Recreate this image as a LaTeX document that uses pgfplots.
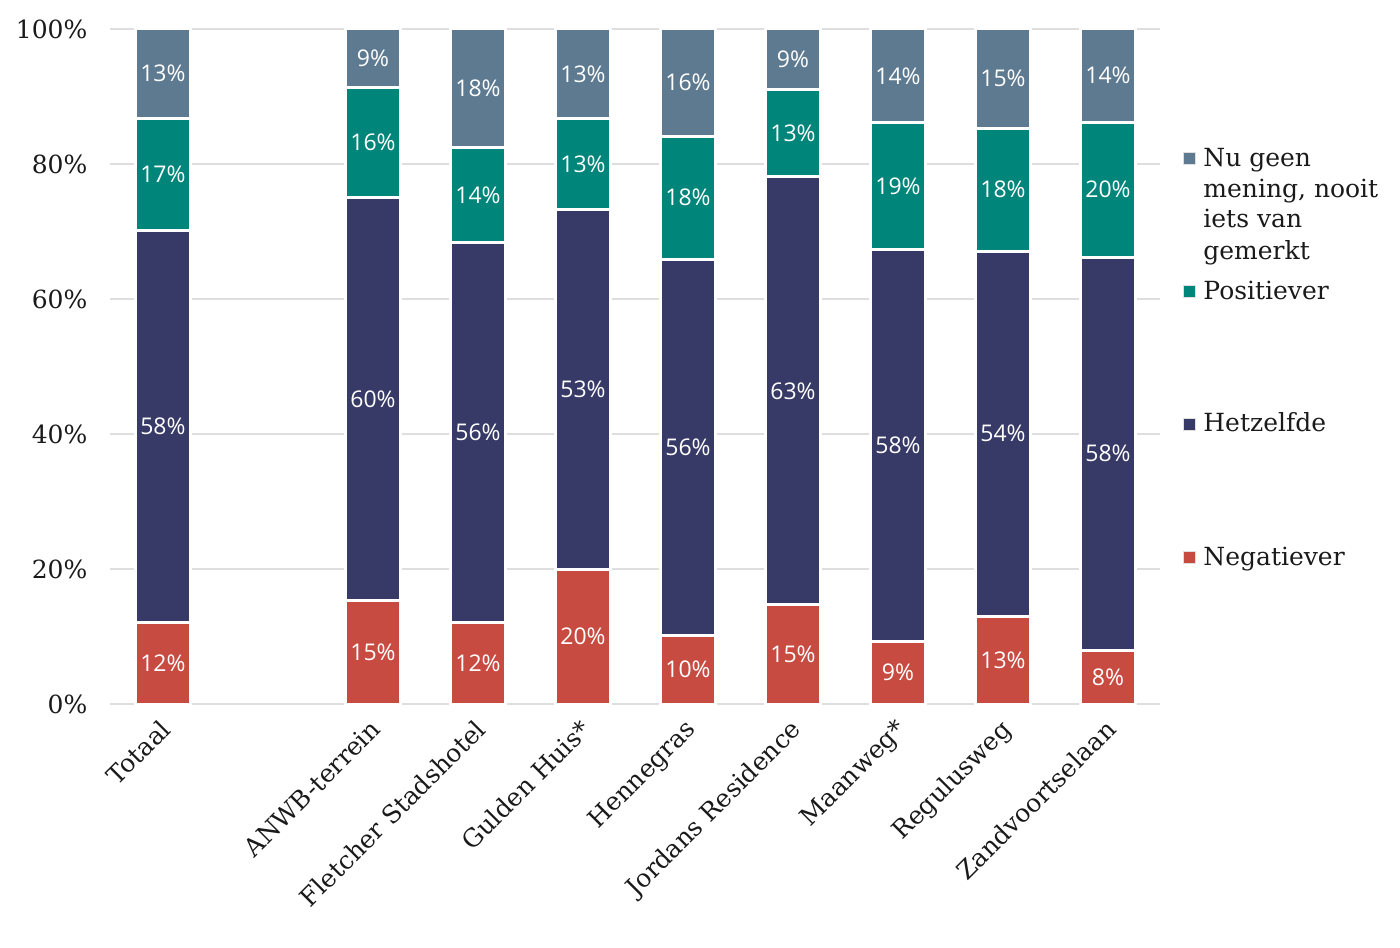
\documentclass[border=0pt]{standalone}
\usepackage{pgfplots}
\pgfplotsset{compat=1.18}
\usepackage{fontspec}
\setmainfont{DejaVu Serif}
\newfontfamily\barfont{Open Sans}
\definecolor{cneg}{HTML}{C84B42}
\definecolor{chet}{HTML}{373A67}
\definecolor{cpos}{HTML}{00857A}
\definecolor{cnu}{HTML}{5E7A90}
\definecolor{cgrid}{HTML}{DEDEDE}
\definecolor{ctext}{HTML}{1A1A1A}
\newcommand\serif{\fontsize{12.5}{15}\selectfont}

% cumulative tops of each segment (percent)
\pgfplotstableread{
x nu  pos  het  neg
0 100 86.8 70.2 12.1
2 100 91.4 75.1 15.3
3 100 82.5 68.3 12.1
4 100 86.7 73.3 20.0
5 100 84.1 65.9 10.2
6 100 91.0 78.1 14.7
7 100 86.1 67.4 9.3
8 100 85.3 67.1 13.0
9 100 86.2 66.2 8.0
}\cumdata

% label positions (segment middles) and printed values
\pgfplotstableread{
x y v
0 6.05 12
0 41.15 58
0 78.5 17
0 93.4 13
2 7.65 15
2 45.2 60
2 83.25 16
2 95.7 9
3 6.05 12
3 40.2 56
3 75.4 14
3 91.25 18
4 10.0 20
4 46.65 53
4 80.0 13
4 93.35 13
5 5.1 10
5 38.05 56
5 75.0 18
5 92.05 16
6 7.35 15
6 46.4 63
6 84.55 13
6 95.5 9
7 4.65 9
7 38.35 58
7 76.75 19
7 93.05 14
8 6.5 13
8 40.05 54
8 76.2 18
8 92.65 15
9 4.0 8
9 37.1 58
9 76.2 20
9 93.1 14
}\labdata

\begin{document}
\begin{tikzpicture}
\begin{axis}[
  scale only axis,
  width=525pt, height=337.5pt,
  xmin=-0.5, xmax=9.5, ymin=0, ymax=100,
  axis line style={draw=none},
  ymajorgrids, grid style={cgrid, line width=0.8pt},
  major tick length=0pt,
  ytick={0,20,40,60,80,100},
  yticklabel={\pgfmathprintnumber{\tick}\%},
  yticklabel style={font=\serif, text=ctext, xshift=-8pt},
  xtick={0,2,3,4,5,6,7,8,9},
  xticklabels={Totaal, ANWB-terrein, Fletcher Stadshotel, Gulden Huis*, Hennegras, Jordans Residence, Maanweg*, Regulusweg, Zandvoortselaan},
  xticklabel style={xshift=-2pt, yshift=-2pt, rotate=45, anchor=north east, font=\serif, text=ctext},
  /pgf/number format/assume math mode=true,
  clip=false,
]
\addplot[ybar, bar width=27.5pt, bar shift=0pt, fill=cnu, draw=white, line width=1.5pt] table[x=x, y=nu] {\cumdata};
\addplot[ybar, bar width=27.5pt, bar shift=0pt, fill=cpos, draw=white, line width=1.5pt] table[x=x, y=pos] {\cumdata};
\addplot[ybar, bar width=27.5pt, bar shift=0pt, fill=chet, draw=white, line width=1.5pt] table[x=x, y=het] {\cumdata};
\addplot[ybar, bar width=27.5pt, bar shift=0pt, fill=cneg, draw=white, line width=1.5pt] table[x=x, y=neg] {\cumdata};
\addplot[only marks, mark=none, point meta=explicit,
  nodes near coords={\pgfmathprintnumber[fixed,precision=0]{\pgfplotspointmeta}\%},
  every node near coord/.append style={font=\barfont\fontsize{11.5}{13}\selectfont, text=white, anchor=center, inner sep=0pt}]
  table[x=x, y=y, meta=v] {\labdata};

% legend
\node[draw=gray!25, fill=cnu, minimum size=6pt, inner sep=0pt] at (axis cs:9.771,80.89) {};
\node[draw=gray!25, fill=cpos, minimum size=6pt, inner sep=0pt] at (axis cs:9.771,61.19) {};
\node[draw=gray!25, fill=chet, minimum size=6pt, inner sep=0pt] at (axis cs:9.771,41.48) {};
\node[draw=gray!25, fill=cneg, minimum size=6pt, inner sep=0pt] at (axis cs:9.771,21.78) {};
\node[anchor=base west, inner sep=0pt, font=\serif, text=ctext] at (axis cs:9.905,79.70) {Nu geen};
\node[anchor=base west, inner sep=0pt, font=\serif, text=ctext] at (axis cs:9.905,75.11) {mening, nooit};
\node[anchor=base west, inner sep=0pt, font=\serif, text=ctext] at (axis cs:9.905,70.52) {iets van};
\node[anchor=base west, inner sep=0pt, font=\serif, text=ctext] at (axis cs:9.905,65.92) {gemerkt};
\node[anchor=base west, inner sep=0pt, font=\serif, text=ctext] at (axis cs:9.905,60.0) {Positiever};
\node[anchor=base west, inner sep=0pt, font=\serif, text=ctext] at (axis cs:9.905,40.30) {Hetzelfde};
\node[anchor=base west, inner sep=0pt, font=\serif, text=ctext] at (axis cs:9.905,20.59) {Negatiever};

\path (axis cs:-1.552,-36) rectangle (axis cs:11.781,104.296);
\end{axis}
\end{tikzpicture}
\end{document}
